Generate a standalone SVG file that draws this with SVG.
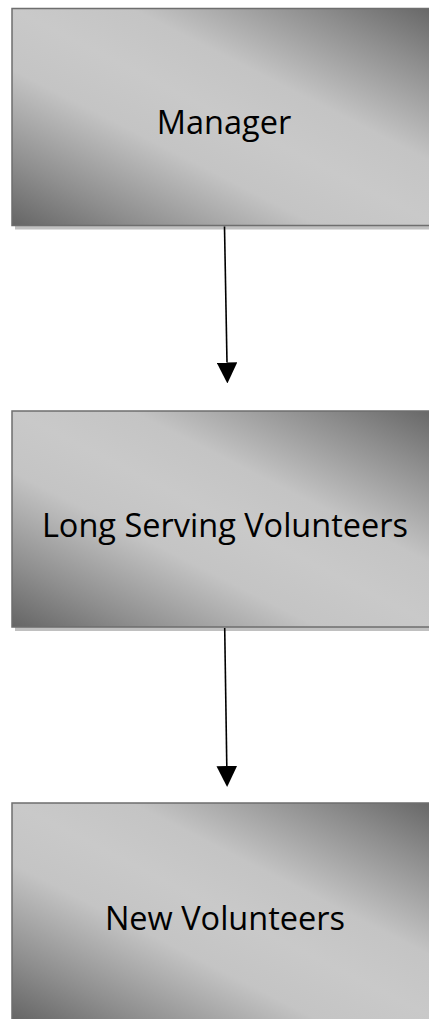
<svg xmlns="http://www.w3.org/2000/svg" width="429" height="1019" viewBox="0 0 429 1019">
  <style>
    .box { fill: url(#shade); stroke: #6e6e6e; stroke-width: 1.5; }
    .shadow { fill: #c0c0c0; }
    .label { font-family: "Open Sans", "Liberation Sans", sans-serif; font-size: 32.5px; fill: #000; text-anchor: middle; }
    .conn { stroke: #000; stroke-width: 1.6; fill: none; }
  </style>
  <defs>
    <linearGradient id="shade" x1="0" y1="1" x2="1" y2="0">
      <stop offset="0" stop-color="#656565"/>
      <stop offset="0.15" stop-color="#8e8e8e"/>
      <stop offset="0.36" stop-color="#c4c4c4"/>
      <stop offset="0.5" stop-color="#c9c9c9"/>
      <stop offset="0.64" stop-color="#c4c4c4"/>
      <stop offset="0.85" stop-color="#8e8e8e"/>
      <stop offset="1" stop-color="#656565"/>
    </linearGradient>
    <marker id="arrow" viewBox="0 -10.5 21 21" markerWidth="21" markerHeight="21" refX="0" refY="0" orient="auto" markerUnits="userSpaceOnUse">
      <path d="M0,-10.3 L21,0 L0,10.3 Z" fill="#000"/>
    </marker>
  </defs>

  <g id="node-manager">
    <rect class="shadow" x="15" y="12.5" width="426" height="217"/>
    <rect class="box" x="12" y="8.5" width="426" height="217"/>
    <text class="label" x="224" y="134">Manager</text>
  </g>

  <g id="node-long-serving">
    <rect class="shadow" x="15" y="415" width="426" height="216"/>
    <rect class="box" x="12" y="411" width="426" height="216"/>
    <text class="label" x="225" y="537">Long Serving Volunteers</text>
  </g>

  <g id="node-new">
    <rect class="shadow" x="15" y="807" width="426" height="217"/>
    <rect class="box" x="12" y="803" width="426" height="217"/>
    <text class="label" x="225" y="930">New Volunteers</text>
  </g>

  <g id="connectors">
    <line class="conn" x1="224.5" y1="226.5" x2="227" y2="362.5" marker-end="url(#arrow)"/>
    <line class="conn" x1="224.7" y1="628" x2="226.8" y2="766" marker-end="url(#arrow)"/>
  </g>
</svg>
